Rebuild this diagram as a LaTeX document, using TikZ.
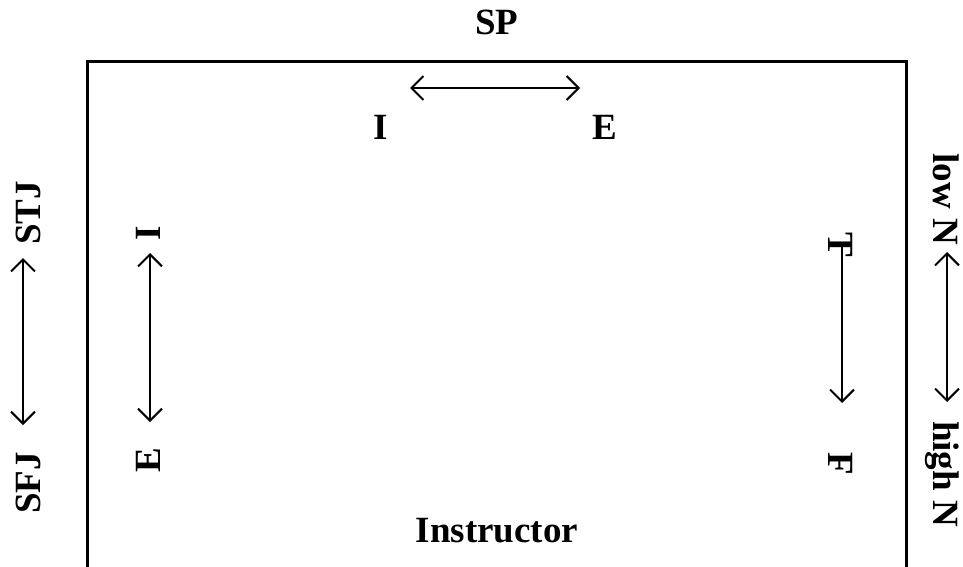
\documentclass[tikz,border=0pt]{standalone}
\usepackage{fontspec}
\setmainfont{Liberation Serif}
\usetikzlibrary{arrows.meta}
\begin{document}
\begin{tikzpicture}[x=1pt,y=-1pt,
  lbl/.style={font=\fontsize{37}{40}\selectfont\bfseries, inner sep=0pt, text height=24.5pt, text depth=0pt},
  upl/.style={lbl, rotate=90},
  dnl/.style={lbl, rotate=-90},
  dbl/.style={line width=2pt, {Straight Barb[length=12pt,width=24pt,line width=2pt]}-{Straight Barb[length=12pt,width=24pt,line width=2pt]}},
  frame/.style={line width=3pt}]
\useasboundingbox (0,0) rectangle (963,567);
% frame
\coordinate (f1) at (87,567);
\coordinate (f2) at (87,62);
\coordinate (f3) at (906,62);
\coordinate (f4) at (906,567);
\draw[frame] (f1) -- (f2) -- (f3) -- (f4);
% labels
\node[lbl] (sp) at (497,22) {SP};
\node[lbl] (instr) at (497,530) {Instructor};
\node[lbl] (ti) at (381,127) {I};
\node[lbl] (te) at (605,127) {E};
\node[upl] (stj) at (28,213) {STJ};
\node[upl] (sfj) at (28,483) {SFJ};
\node[upl] (li) at (148,233) {I};
\node[upl] (le) at (148,460) {E};
\node[dnl] (lown) at (946,199) {low N};
\node[dnl] (highn) at (946,474) {high N};
\node[dnl] (rt) at (841,245) {T};
\node[dnl] (rf) at (841,464) {F};
% arrow ends
\coordinate (a1) at (410,88);
\coordinate (a2) at (580,88);
\coordinate (b1) at (23,258);
\coordinate (b2) at (23,425);
\coordinate (c1) at (150,253);
\coordinate (c2) at (150,422);
\coordinate (d1) at (947,252);
\coordinate (d2) at (947,402);
\coordinate (e1) at (842,246);
\coordinate (e2) at (842,403);
\draw[dbl] (a1) -- (a2);
\draw[dbl] (b1) -- (b2);
\draw[dbl] (c1) -- (c2);
\draw[dbl] (d1) -- (d2);
\draw[line width=2pt, -{Straight Barb[length=12pt,width=24pt,line width=2pt]}] (e1) -- (e2);
\end{tikzpicture}
\end{document}
